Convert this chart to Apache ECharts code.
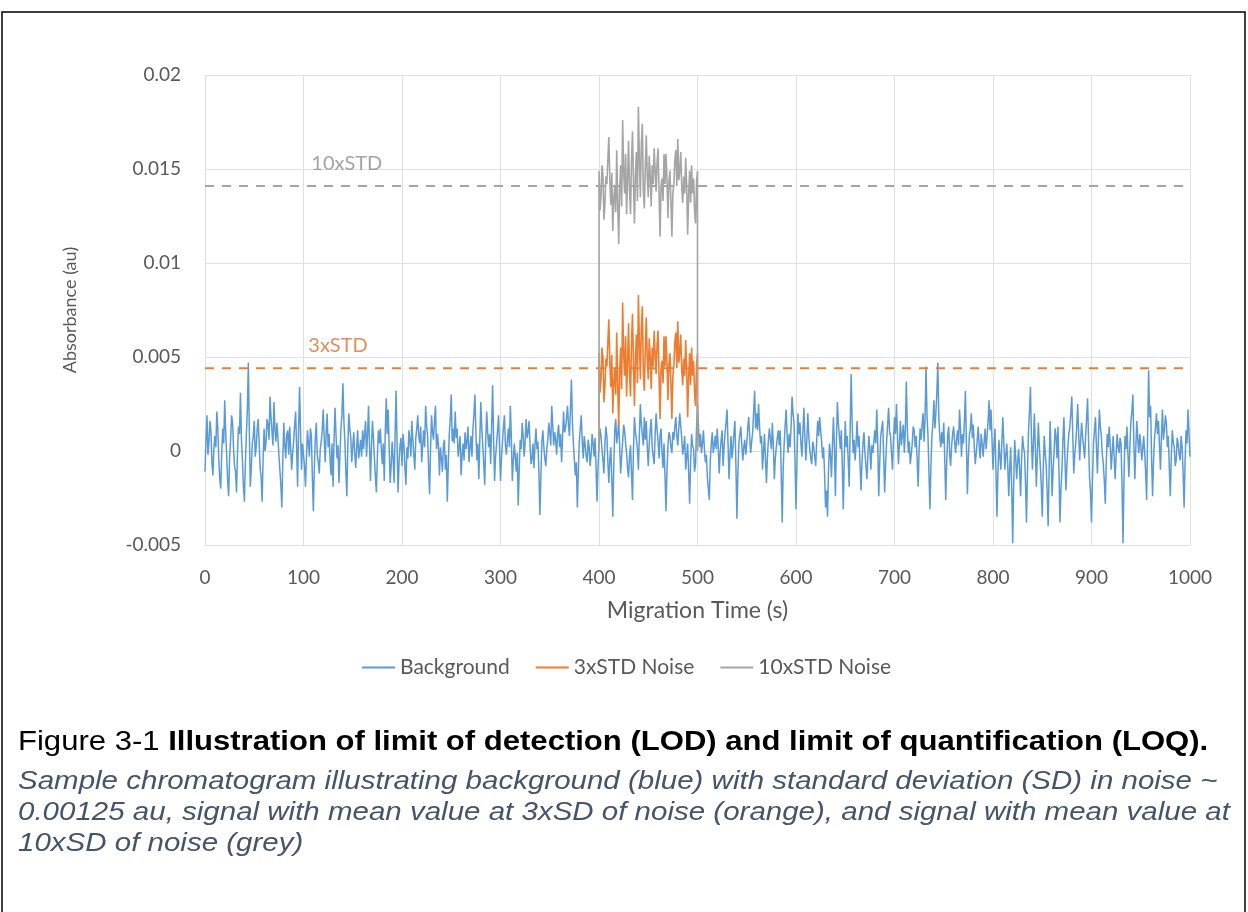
<!DOCTYPE html>
<html>
<head>
<meta charset="utf-8">
<script src="https://cdn.jsdelivr.net/npm/echarts@6/dist/echarts.min.js"></script>
<style>
  html, body { margin: 0; padding: 0; background: #ffffff; }
  #chart { width: 1248px; height: 912px; }
</style>
</head>
<body>
<div id="chart"></div>
<script>
// Background absorbance (au), one reading per second from 0 to 1000 s (20 readings per row)
const sampleStep = 1;
const backgroundValues = [
  -0.0011, 0.0006, 0.0019, -0.0002, 0.0005, 0.0016, 0.0011, -0.0006, -0.0013, 0.0001, 0.0008, 0.0002, 0.0021, 0.0012, -0.0004, -0.0015, -0.0020, -0.0001, 0.0012, 0.0004,
  0.0027, 0.0010, -0.0002, -0.0016, -0.0024, -0.0003, 0.0006, 0.0019, 0.0015, 0.0001, -0.0008, -0.0011, -0.0022, -0.0001, 0.0013, 0.0009, 0.0031, 0.0006, -0.0005, -0.0019,
  -0.0027, -0.0006, 0.0009, 0.0022, 0.0047, 0.0011, -0.0019, -0.0009, 0.0004, 0.0008, 0.0016, -0.0003, 0.0002, 0.0012, 0.0017, 0.0004, -0.0009, -0.0014, -0.0027, -0.0004,
  0.0012, 0.0000, 0.0005, 0.0017, 0.0014, 0.0006, 0.0029, 0.0018, 0.0010, 0.0003, 0.0026, 0.0012, 0.0005, 0.0015, 0.0008, -0.0002, -0.0010, -0.0018, -0.0030, -0.0005,
  0.0015, 0.0003, -0.0004, 0.0009, 0.0011, -0.0002, 0.0013, 0.0001, -0.0010, -0.0001, 0.0005, 0.0014, 0.0021, 0.0002, -0.0019, 0.0012, 0.0034, 0.0010, -0.0010, 0.0004,
  -0.0002, -0.0008, -0.0019, -0.0003, 0.0011, 0.0004, -0.0003, 0.0012, 0.0008, -0.0014, -0.0032, -0.0009, 0.0007, 0.0015, -0.0002, -0.0006, -0.0012, 0.0001, 0.0005, 0.0011,
  0.0022, 0.0007, -0.0006, 0.0010, 0.0020, 0.0002, 0.0009, -0.0005, -0.0013, 0.0004, -0.0019, 0.0006, 0.0023, 0.0009, -0.0004, 0.0003, -0.0017, -0.0002, 0.0012, 0.0019,
  0.0036, 0.0016, 0.0005, -0.0011, -0.0024, 0.0003, 0.0020, 0.0012, 0.0007, -0.0006, 0.0002, 0.0010, -0.0001, -0.0009, 0.0002, 0.0011, -0.0004, 0.0001, 0.0006, -0.0003,
  0.0011, 0.0001, 0.0009, 0.0016, -0.0003, 0.0008, 0.0024, 0.0004, -0.0016, 0.0002, 0.0016, 0.0007, -0.0004, -0.0014, -0.0022, -0.0003, 0.0011, 0.0004, 0.0012, 0.0001,
  -0.0007, 0.0004, -0.0016, 0.0010, 0.0028, 0.0009, 0.0022, 0.0001, -0.0017, -0.0008, 0.0005, -0.0004, -0.0017, 0.0009, 0.0032, 0.0004, -0.0022, -0.0006, 0.0003, 0.0007,
  -0.0008, 0.0009, 0.0003, -0.0009, -0.0018, 0.0002, -0.0004, 0.0011, 0.0006, -0.0003, 0.0016, 0.0006, -0.0002, -0.0010, 0.0007, 0.0012, 0.0019, 0.0008, 0.0004, 0.0013,
  -0.0006, 0.0003, 0.0011, 0.0002, 0.0024, 0.0014, 0.0008, -0.0009, -0.0023, 0.0001, 0.0019, 0.0010, 0.0006, 0.0016, 0.0024, 0.0001, 0.0009, 0.0003, -0.0013, 0.0002,
  -0.0004, -0.0011, 0.0003, 0.0006, -0.0010, -0.0002, -0.0027, -0.0007, 0.0009, 0.0017, 0.0030, 0.0005, 0.0012, 0.0004, 0.0021, 0.0007, 0.0012, -0.0003, 0.0002, 0.0008,
  -0.0013, -0.0002, 0.0004, -0.0005, 0.0010, 0.0001, 0.0005, 0.0013, -0.0006, 0.0002, 0.0008, -0.0003, 0.0012, 0.0019, 0.0030, 0.0011, -0.0005, 0.0004, -0.0015, 0.0006,
  0.0026, 0.0012, 0.0003, -0.0007, -0.0018, 0.0005, 0.0021, 0.0010, 0.0002, 0.0009, -0.0007, 0.0013, 0.0035, 0.0006, -0.0016, -0.0003, 0.0004, 0.0011, 0.0019, 0.0002,
  -0.0016, -0.0004, 0.0005, 0.0013, 0.0019, 0.0003, -0.0002, 0.0006, 0.0012, 0.0002, 0.0024, 0.0007, -0.0016, -0.0005, 0.0004, -0.0003, -0.0011, -0.0001, -0.0029, -0.0010,
  0.0006, 0.0001, 0.0015, 0.0008, -0.0003, 0.0005, 0.0017, 0.0007, 0.0010, 0.0016, 0.0003, -0.0007, -0.0004, 0.0004, -0.0009, 0.0003, 0.0012, 0.0001, 0.0005, -0.0012,
  -0.0034, -0.0013, 0.0005, 0.0011, 0.0002, -0.0004, -0.0008, 0.0001, 0.0006, 0.0015, 0.0010, 0.0003, 0.0024, 0.0014, 0.0003, 0.0010, 0.0006, -0.0002, 0.0009, 0.0014,
  0.0002, 0.0009, -0.0006, 0.0007, 0.0021, 0.0010, 0.0012, 0.0017, 0.0024, 0.0014, 0.0008, 0.0022, 0.0038, 0.0016, 0.0004, -0.0005, -0.0013, -0.0006, -0.0030, -0.0011,
  0.0005, 0.0012, 0.0019, 0.0005, -0.0004, 0.0008, 0.0003, -0.0003, -0.0006, 0.0006, 0.0002, -0.0008, -0.0002, 0.0009, 0.0004, -0.0003, 0.0007, -0.0009, -0.0027, -0.0008,
  0.0003, 0.0012, 0.0008, 0.0001, -0.0005, -0.0012, 0.0004, 0.0013, 0.0008, -0.0006, -0.0017, -0.0004, 0.0002, -0.0015, -0.0035, -0.0008, 0.0011, 0.0017, 0.0004, 0.0009,
  0.0016, 0.0002, -0.0012, -0.0003, 0.0005, 0.0014, 0.0011, 0.0004, -0.0001, -0.0009, -0.0014, -0.0003, 0.0003, -0.0012, -0.0026, 0.0001, 0.0018, 0.0010, 0.0006, 0.0001,
  -0.0010, 0.0009, 0.0025, 0.0014, 0.0008, 0.0003, 0.0018, 0.0006, 0.0016, 0.0002, -0.0008, 0.0004, 0.0011, 0.0017, 0.0002, -0.0003, -0.0007, 0.0009, 0.0020, 0.0011,
  0.0005, -0.0004, 0.0008, 0.0012, -0.0001, -0.0009, 0.0004, -0.0013, -0.0032, -0.0011, 0.0003, 0.0010, 0.0008, 0.0002, -0.0001, 0.0010, 0.0006, 0.0013, 0.0018, 0.0008,
  0.0003, 0.0012, 0.0020, 0.0013, 0.0007, -0.0002, 0.0002, 0.0008, -0.0010, -0.0003, 0.0004, -0.0011, -0.0028, -0.0006, 0.0009, 0.0003, 0.0001, -0.0011, -0.0007, 0.0012,
  0.0025, 0.0013, 0.0002, 0.0009, -0.0001, 0.0004, 0.0011, 0.0001, -0.0006, -0.0002, -0.0014, -0.0020, -0.0026, -0.0005, 0.0004, 0.0010, -0.0001, 0.0003, 0.0008, 0.0001,
  0.0012, 0.0003, -0.0012, -0.0001, 0.0006, 0.0011, -0.0008, 0.0002, 0.0010, 0.0015, 0.0022, 0.0004, -0.0015, -0.0002, 0.0008, -0.0004, 0.0002, 0.0010, 0.0016, -0.0008,
  -0.0036, -0.0012, 0.0004, 0.0009, 0.0013, 0.0003, -0.0005, 0.0002, 0.0006, -0.0002, 0.0004, 0.0012, 0.0018, 0.0007, -0.0001, 0.0005, 0.0010, 0.0021, 0.0032, 0.0012,
  0.0020, 0.0011, 0.0025, 0.0013, 0.0004, 0.0008, -0.0010, -0.0001, 0.0009, -0.0004, -0.0017, -0.0003, 0.0006, 0.0012, 0.0006, 0.0001, 0.0015, 0.0003, -0.0015, -0.0004,
  0.0002, 0.0007, 0.0011, 0.0003, 0.0011, -0.0012, -0.0038, -0.0009, 0.0004, 0.0014, 0.0022, 0.0008, -0.0001, 0.0009, 0.0002, 0.0013, 0.0029, 0.0020, 0.0015, -0.0006,
  -0.0031, -0.0004, 0.0020, 0.0009, 0.0015, 0.0004, -0.0003, 0.0010, 0.0023, 0.0007, -0.0005, 0.0006, 0.0020, 0.0008, 0.0001, -0.0004, -0.0007, 0.0005, 0.0002, -0.0003,
  -0.0008, 0.0005, 0.0016, 0.0008, 0.0018, 0.0011, 0.0005, -0.0004, 0.0002, -0.0012, -0.0030, -0.0021, -0.0035, -0.0010, 0.0004, -0.0002, -0.0014, 0.0003, 0.0018, 0.0002,
  -0.0024, 0.0004, 0.0026, 0.0015, 0.0008, 0.0001, 0.0011, -0.0008, -0.0031, -0.0004, 0.0016, 0.0002, 0.0008, -0.0005, -0.0019, 0.0012, 0.0041, 0.0015, -0.0001, 0.0006,
  -0.0005, 0.0004, 0.0016, 0.0002, 0.0008, -0.0007, -0.0021, -0.0006, 0.0004, 0.0010, -0.0001, -0.0008, -0.0015, -0.0002, 0.0008, 0.0001, -0.0010, 0.0003, -0.0001, 0.0005,
  0.0011, 0.0004, 0.0022, 0.0003, -0.0024, -0.0006, 0.0008, 0.0012, 0.0016, -0.0003, -0.0022, -0.0007, 0.0005, 0.0014, 0.0023, 0.0010, 0.0008, -0.0002, -0.0010, 0.0006,
  0.0018, 0.0009, 0.0025, 0.0008, -0.0007, 0.0004, 0.0016, 0.0003, 0.0009, 0.0014, -0.0001, 0.0011, 0.0037, 0.0012, -0.0001, 0.0005, -0.0007, -0.0002, 0.0004, 0.0013,
  0.0011, 0.0002, 0.0008, -0.0005, -0.0019, 0.0001, 0.0012, 0.0006, 0.0014, 0.0020, 0.0005, 0.0017, 0.0045, 0.0019, 0.0008, -0.0012, -0.0031, -0.0007, 0.0008, 0.0015,
  0.0027, 0.0012, 0.0020, 0.0031, 0.0047, 0.0018, 0.0008, 0.0002, 0.0010, 0.0004, 0.0015, -0.0004, -0.0026, -0.0006, 0.0008, 0.0013, -0.0002, -0.0008, 0.0003, 0.0009,
  0.0013, 0.0005, -0.0001, 0.0006, 0.0011, 0.0003, 0.0022, 0.0012, -0.0003, 0.0009, 0.0004, 0.0016, 0.0032, 0.0004, -0.0023, -0.0003, 0.0008, 0.0012, 0.0020, 0.0007,
  0.0014, 0.0002, -0.0007, -0.0001, 0.0006, 0.0013, 0.0002, -0.0004, 0.0009, 0.0004, -0.0003, 0.0005, 0.0012, 0.0001, 0.0008, 0.0016, 0.0027, 0.0011, 0.0022, 0.0006,
  -0.0010, 0.0003, 0.0012, -0.0011, -0.0035, -0.0012, 0.0006, -0.0003, -0.0010, 0.0005, 0.0018, 0.0004, -0.0010, -0.0002, 0.0004, -0.0008, -0.0024, -0.0009, 0.0002, -0.0020,
  -0.0049, -0.0018, 0.0006, -0.0003, -0.0015, -0.0006, 0.0001, -0.0009, -0.0024, -0.0005, 0.0008, 0.0002, -0.0001, -0.0017, -0.0038, -0.0011, 0.0010, 0.0021, 0.0034, 0.0008,
  -0.0010, 0.0004, 0.0020, 0.0002, -0.0019, -0.0002, 0.0015, 0.0003, -0.0007, -0.0018, -0.0035, -0.0010, 0.0008, -0.0001, -0.0008, -0.0022, -0.0040, -0.0009, 0.0016, -0.0002,
  -0.0024, -0.0010, -0.0001, 0.0012, 0.0008, -0.0004, 0.0013, -0.0011, -0.0038, -0.0020, -0.0010, 0.0006, 0.0018, -0.0003, -0.0021, -0.0008, 0.0002, 0.0009, 0.0013, 0.0020,
  0.0029, 0.0008, -0.0012, -0.0002, 0.0004, 0.0013, 0.0025, 0.0009, -0.0005, 0.0006, 0.0015, 0.0007, 0.0002, -0.0004, 0.0008, 0.0017, 0.0028, 0.0006, -0.0014, -0.0022,
  -0.0038, -0.0015, 0.0004, 0.0011, 0.0018, 0.0002, -0.0012, 0.0006, 0.0022, 0.0013, 0.0008, -0.0002, -0.0007, -0.0016, -0.0028, -0.0006, 0.0009, 0.0002, 0.0013, 0.0003,
  -0.0010, -0.0001, 0.0008, -0.0003, -0.0015, -0.0002, 0.0009, 0.0002, -0.0001, 0.0007, 0.0004, -0.0019, -0.0049, -0.0014, 0.0008, 0.0001, 0.0013, -0.0002, -0.0014, 0.0003,
  0.0016, 0.0021, 0.0030, 0.0004, -0.0015, 0.0002, 0.0016, 0.0006, -0.0001, 0.0009, 0.0004, -0.0005, 0.0001, 0.0008, -0.0001, -0.0012, -0.0026, 0.0011, 0.0043, 0.0018,
  0.0024, -0.0004, -0.0024, -0.0005, 0.0007, 0.0013, 0.0020, 0.0009, 0.0016, 0.0003, -0.0010, 0.0008, 0.0022, 0.0006, 0.0011, 0.0019, 0.0015, 0.0002, 0.0008, -0.0009,
  -0.0024, -0.0003, 0.0011, 0.0005, 0.0002, -0.0008, -0.0005, 0.0007, 0.0004, -0.0002, -0.0005, 0.0008, 0.0002, -0.0011, -0.0030, -0.0006, 0.0011, 0.0004, 0.0022, 0.0009,
  -0.0003
];

// Simulated signal window (s), one reading per second
const signalStart = 400;
const signalEnd = 500;
const signalStep = 1;
const signalBaseline = 0;
const lodSignalValues = [
  0.0052, 0.0031, 0.0038, 0.0055, 0.0050, 0.0026, 0.0034, 0.0049, 0.0045, 0.0058,
  0.0070, 0.0047, 0.0034, 0.0051, 0.0020, 0.0037, 0.0044, 0.0030, 0.0063, 0.0035,
  0.0013, 0.0042, 0.0055, 0.0033, 0.0079, 0.0052, 0.0040, 0.0061, 0.0029, 0.0047,
  0.0068, 0.0041, 0.0029, 0.0057, 0.0073, 0.0046, 0.0024, 0.0050, 0.0062, 0.0036,
  0.0083, 0.0058, 0.0038, 0.0066, 0.0077, 0.0042, 0.0032, 0.0054, 0.0071, 0.0049,
  0.0038, 0.0060, 0.0050, 0.0033, 0.0055, 0.0045, 0.0064, 0.0052, 0.0041, 0.0057,
  0.0064, 0.0039, 0.0017, 0.0044, 0.0048, 0.0036, 0.0061, 0.0045, 0.0061, 0.0048,
  0.0027, 0.0046, 0.0052, 0.0036, 0.0017, 0.0040, 0.0045, 0.0058, 0.0063, 0.0044,
  0.0069, 0.0047, 0.0052, 0.0062, 0.0043, 0.0035, 0.0049, 0.0040, 0.0059, 0.0044,
  0.0018, 0.0039, 0.0052, 0.0035, 0.0055, 0.0040, 0.0048, 0.0031, 0.0024, 0.0046,
  0.0052
];
const loqSignalValues = [
  0.0149, 0.0128, 0.0135, 0.0152, 0.0147, 0.0123, 0.0131, 0.0146, 0.0142, 0.0155,
  0.0167, 0.0144, 0.0131, 0.0148, 0.0117, 0.0134, 0.0141, 0.0127, 0.0160, 0.0132,
  0.0110, 0.0139, 0.0152, 0.0130, 0.0176, 0.0149, 0.0137, 0.0158, 0.0126, 0.0144,
  0.0165, 0.0138, 0.0126, 0.0154, 0.0170, 0.0143, 0.0121, 0.0147, 0.0159, 0.0133,
  0.0183, 0.0155, 0.0135, 0.0163, 0.0174, 0.0139, 0.0129, 0.0151, 0.0168, 0.0146,
  0.0135, 0.0157, 0.0147, 0.0130, 0.0152, 0.0142, 0.0161, 0.0149, 0.0138, 0.0154,
  0.0161, 0.0136, 0.0114, 0.0141, 0.0145, 0.0133, 0.0158, 0.0142, 0.0158, 0.0145,
  0.0124, 0.0143, 0.0149, 0.0133, 0.0114, 0.0137, 0.0142, 0.0155, 0.0160, 0.0141,
  0.0166, 0.0144, 0.0149, 0.0159, 0.0140, 0.0132, 0.0146, 0.0137, 0.0156, 0.0141,
  0.0115, 0.0136, 0.0149, 0.0132, 0.0152, 0.0137, 0.0145, 0.0128, 0.0121, 0.0143,
  0.0149
];

// Threshold levels and their captions
const thresholdNames = ['3xSTD', '10xSTD'];
const thresholdLevels = [0.0044, 0.0141];
const thresholdLabelTimes = [135, 144];

const seriesNames = ['Background', '3xSTD Noise', '10xSTD Noise'];
const seriesColors = ['#5B9BD5', '#ED7D31', '#A5A5A5'];
const thresholdLabelColors = ['#D9712F', '#8C8C8C'];

// Axis ranges
const timeRange = [0, 1000, 100];
const absorbanceRange = [-0.005, 0.02, 0.005];

const CHART_FONT = 'Lato, "Open Sans", sans-serif';
const CAPTION_FONT = '"Liberation Sans", Arial, sans-serif';
const TEXT_GREY = '#595959';

function signalData(values) {
  const pts = [[signalStart, signalBaseline]];
  values.forEach((v, i) => pts.push([signalStart + i * signalStep, v]));
  pts.push([signalEnd, signalBaseline]);
  return pts;
}

const backgroundData = backgroundValues.map((v, i) => [i * sampleStep, v]);

const chart = echarts.init(document.getElementById('chart'), null, { renderer: 'canvas' });

const thresholdSeries = [];
thresholdLevels.forEach((level, k) => {
  thresholdSeries.push({
    name: thresholdNames[k] + ' level',
    type: 'line',
    data: [[timeRange[0], level], [timeRange[1], level]],
    symbol: 'none',
    silent: true,
    z: 3,
    lineStyle: { color: seriesColors[k + 1], width: 2, type: [9, 8] }
  });
  thresholdSeries.push({
    name: thresholdNames[k] + ' caption',
    type: 'scatter',
    data: [[thresholdLabelTimes[k], level]],
    symbolSize: 1,
    silent: true,
    itemStyle: { color: 'rgba(0,0,0,0)' },
    label: {
      show: true,
      formatter: thresholdNames[k],
      position: 'top',
      distance: 12,
      color: thresholdLabelColors[k],
      fontFamily: CHART_FONT,
      fontSize: 20
    }
  });
});

chart.setOption({
  backgroundColor: '#ffffff',
  animation: false,
  textStyle: { fontFamily: CHART_FONT },
  grid: { left: 205, right: 58, top: 75, bottom: 367, containLabel: false },
  legend: {
    data: seriesNames,
    left: 357,
    top: 652,
    icon: 'rect',
    itemWidth: 33,
    itemHeight: 2,
    itemGap: 26,
    textStyle: { color: TEXT_GREY, fontSize: 21, fontFamily: CHART_FONT }
  },
  xAxis: {
    type: 'value',
    min: timeRange[0],
    max: timeRange[1],
    interval: timeRange[2],
    name: 'Migration Time (s)',
    nameLocation: 'middle',
    nameGap: 54,
    nameTextStyle: { color: TEXT_GREY, fontSize: 23, fontFamily: CHART_FONT },
    axisLine: { show: true, lineStyle: { color: '#D9D9D9', width: 1 } },
    axisTick: { show: false },
    axisLabel: {
      color: TEXT_GREY, fontSize: 19, margin: 23, fontFamily: CHART_FONT,
      formatter: (v) => String(v)
    },
    splitLine: { show: true, lineStyle: { color: '#E0E0E0', width: 1 } }
  },
  yAxis: {
    type: 'value',
    min: absorbanceRange[0],
    max: absorbanceRange[1],
    interval: absorbanceRange[2],
    name: 'Absorbance (au)',
    nameLocation: 'middle',
    nameGap: 126,
    nameTextStyle: { color: TEXT_GREY, fontSize: 18, fontFamily: CHART_FONT },
    axisLine: { show: false },
    axisTick: { show: false },
    axisLabel: { color: TEXT_GREY, fontSize: 19, margin: 24, fontFamily: CHART_FONT },
    splitLine: { show: true, lineStyle: { color: '#E0E0E0', width: 1 } }
  },
  series: [
    {
      name: seriesNames[0],
      type: 'line',
      data: backgroundData,
      symbol: 'none',
      z: 2,
      lineStyle: { color: seriesColors[0], width: 1.5 },
      itemStyle: { color: seriesColors[0] }
    },
    ...thresholdSeries,
    {
      name: seriesNames[1],
      type: 'line',
      data: signalData(lodSignalValues),
      symbol: 'none',
      z: 4,
      lineStyle: { color: seriesColors[1], width: 1.6 },
      itemStyle: { color: seriesColors[1] }
    },
    {
      name: seriesNames[2],
      type: 'line',
      data: signalData(loqSignalValues),
      symbol: 'none',
      z: 5,
      lineStyle: { color: seriesColors[2], width: 1.6 },
      itemStyle: { color: seriesColors[2] }
    }
  ],
  graphic: [
    {
      type: 'rect',
      shape: { x: 2, y: 12, width: 1243, height: 920 },
      style: { fill: null, stroke: '#000000', lineWidth: 1.5 },
      silent: true
    },
    {
      type: 'text',
      x: 18,
      y: 743,
      scaleX: 1.15,
      style: {
        text: '{r|Figure 3-1 }{b|Illustration of limit of detection (LOD) and limit of quantification (LOQ).}',
        verticalAlign: 'middle',
        rich: {
          r: { fontFamily: CAPTION_FONT, fontSize: 27, fill: '#000000' },
          b: { fontFamily: CAPTION_FONT, fontSize: 27, fontWeight: 'bold', fill: '#000000' }
        }
      }
    },
    {
      type: 'text',
      x: 18,
      y: 767,
      scaleX: 1.18,
      style: {
        text: 'Sample chromatogram illustrating background (blue) with standard deviation (SD) in noise ~\n0.00125 au, signal with mean value at 3xSD of noise (orange), and signal with mean value at\n10xSD of noise (grey)',
        fontFamily: CAPTION_FONT,
        fontSize: 25,
        fontStyle: 'italic',
        lineHeight: 31,
        verticalAlign: 'top',
        fill: '#44546A'
      }
    }
  ]
});
</script>
</body>
</html>
